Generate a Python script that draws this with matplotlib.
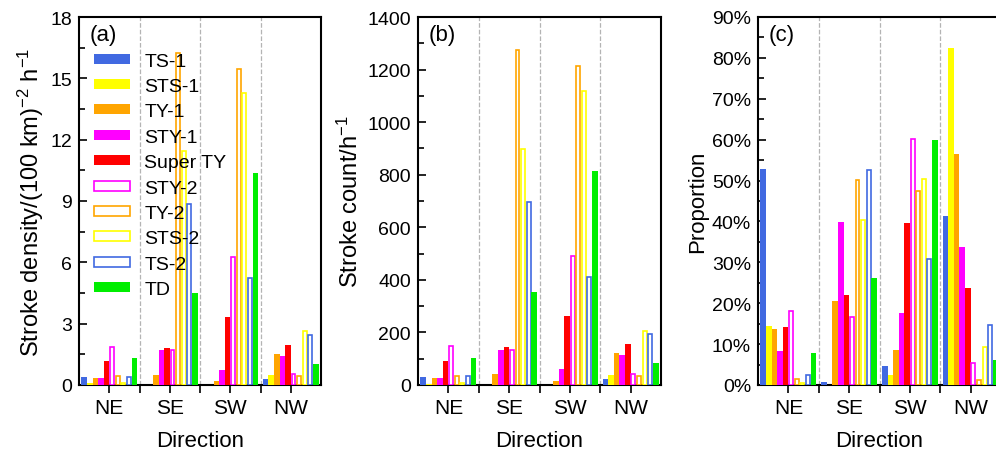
import numpy as np
import matplotlib
matplotlib.use("Agg")
import matplotlib.pyplot as plt
from matplotlib.ticker import MultipleLocator, FixedLocator, PercentFormatter

plt.rcParams['font.family'] = ['Liberation Sans', 'DejaVu Sans']
plt.rcParams['mathtext.fontset'] = 'custom'
plt.rcParams['mathtext.rm'] = 'Liberation Sans'
plt.rcParams['mathtext.it'] = 'Liberation Sans'

directions = ["NE", "SE", "SW", "NW"]
series = ["TS-1", "STS-1", "TY-1", "STY-1", "Super TY", "STY-2", "TY-2", "STS-2", "TS-2", "TD"]

# (a) stroke density, per series: NE, SE, SW, NW
density = {
    "TS-1":     [0.38, 0.0, 0.0, 0.30],
    "STS-1":    [0.08, 0.0, 0.0, 0.51],
    "TY-1":     [0.34, 0.51, 0.20, 1.53],
    "STY-1":    [0.34, 1.72, 0.74, 1.44],
    "Super TY": [1.18, 1.82, 3.32, 1.97],
    "STY-2":    [1.86, 1.69, 6.24, 0.54],
    "TY-2":     [0.44, 16.26, 15.48, 0.44],
    "STS-2":    [0.11, 11.45, 14.29, 2.63],
    "TS-2":     [0.41, 8.87, 5.21, 2.46],
    "TD":       [1.33, 4.48, 10.38, 1.03],
}

# (b) stroke count per hour
count = {
    "TS-1":     [32, 0, 0, 23],
    "STS-1":    [5, 0, 0, 39],
    "TY-1":     [28, 43, 15, 120],
    "STY-1":    [28, 135, 59, 115],
    "Super TY": [93, 143, 261, 155],
    "STY-2":    [148, 135, 490, 43],
    "TY-2":     [36, 1273, 1214, 36],
    "STS-2":    [9, 897, 1118, 206],
    "TS-2":     [33, 696, 409, 194],
    "TD":       [104, 353, 814, 82],
}

# (c) proportion in %
proportion = {
    "TS-1":     [52.9, 0.7, 4.7, 41.3],
    "STS-1":    [14.4, 0.0, 2.5, 82.5],
    "TY-1":     [13.8, 20.6, 8.6, 56.6],
    "STY-1":    [8.4, 39.8, 17.6, 33.8],
    "Super TY": [14.3, 21.9, 39.7, 23.7],
    "STY-2":    [18.2, 16.6, 60.2, 5.5],
    "TY-2":     [1.5, 50.1, 47.5, 1.3],
    "STS-2":    [0.5, 40.4, 50.3, 9.4],
    "TS-2":     [2.5, 52.7, 30.8, 14.6],
    "TD":       [7.8, 26.1, 59.8, 6.1],
}

colors = {
    "TS-1": "#4169E1", "STS-1": "#FFFF00", "TY-1": "#FFA500", "STY-1": "#FF00FF",
    "Super TY": "#FF0000", "STY-2": "#FF00FF", "TY-2": "#FFA500", "STS-2": "#FFFF00",
    "TS-2": "#4169E1", "TD": "#00EE00",
}
hollow = ["STY-2", "TY-2", "STS-2", "TS-2"]

W, H = 996, 452
fig = plt.figure(figsize=(W / 100, H / 100), dpi=100)

def axes_px(left, right, top, bottom):
    return fig.add_axes([left / W, 1 - bottom / H, (right - left) / W, (bottom - top) / H])

axs = [axes_px(79, 321, 18, 386), axes_px(418, 661, 18, 386), axes_px(758, 1001, 18, 386)]

x = np.arange(1, len(directions) + 1)
bw = 0.092

def draw(ax, data, ymax, major, minor, ylabel, ylsize, tag):
    for i, s in enumerate(series):
        pos = x + (i - 4.5) * bw
        if s in hollow:
            ax.bar(pos, data[s], width=bw - 0.027, facecolor="white", edgecolor=colors[s],
                   linewidth=1.2, label=s, zorder=3)
        else:
            ax.bar(pos, data[s], width=bw, color=colors[s], linewidth=0, label=s, zorder=3)
    for b in [1.5, 2.5, 3.5]:
        ax.axvline(b, color="#b4b4b4", linestyle="--", linewidth=0.9, zorder=1)
    ax.set_xlim(0.5, 4.5)
    ax.set_ylim(0, ymax)
    ax.set_xticks(x)
    ax.set_xticklabels(directions)
    ax.xaxis.set_minor_locator(FixedLocator([1.5, 2.5, 3.5]))
    ax.yaxis.set_major_locator(MultipleLocator(major))
    ax.yaxis.set_minor_locator(MultipleLocator(minor))
    ax.tick_params(axis="y", which="both", direction="in", labelsize=14, pad=5)
    ax.tick_params(axis="y", which="major", length=6, width=1.2)
    ax.tick_params(axis="y", which="minor", length=4, width=1.2)
    ax.tick_params(axis="x", which="both", direction="out", length=6, width=1.2, labelsize=15)
    for sp in ax.spines.values():
        sp.set_linewidth(1.5)
    ax.set_xlabel("Direction", fontsize=16, labelpad=9)
    ax.set_ylabel(ylabel, fontsize=ylsize, labelpad=3)
    ax.text(0.045, 0.98, tag, transform=ax.transAxes, fontsize=16, va="top", ha="left")

draw(axs[0], density, 18, 3, 1.5, r"Stroke density/(100 km)$^{-2}$ h$^{-1}$", 17, "(a)")
draw(axs[1], count, 1400, 200, 100, r"Stroke count/h$^{-1}$", 17, "(b)")
draw(axs[2], proportion, 90, 10, 5, "Proportion", 16, "(c)")
axs[2].yaxis.set_major_formatter(PercentFormatter(decimals=0))

axs[0].legend(loc="upper left", bbox_to_anchor=(0.062, 0.903), frameon=False, fontsize=14,
              handlelength=1.86, handleheight=0.41, handletextpad=0.72, labelspacing=0.43,
              borderaxespad=0, borderpad=0)

fig.savefig("out.png", dpi=100)
